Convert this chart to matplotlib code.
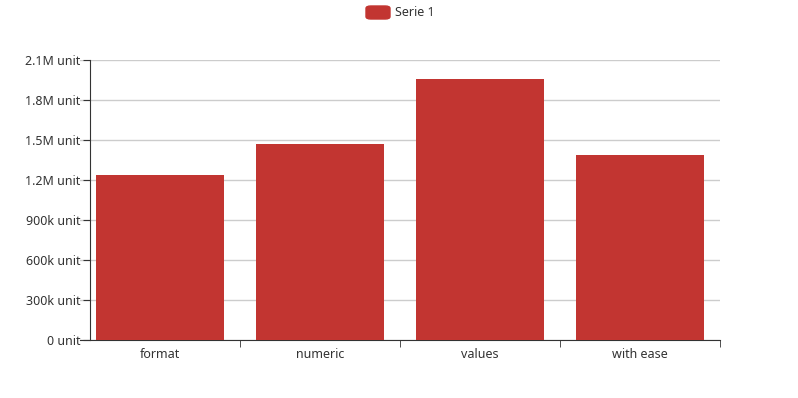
import matplotlib
matplotlib.use("Agg")
import matplotlib.pyplot as plt
from matplotlib.patches import FancyBboxPatch
import numpy as np

categories = ["format", "numeric", "values", "with ease"]
serie_1 = [1238000, 1470000, 1955000, 1385000]
y_ticks = [0, 300000, 600000, 900000, 1200000, 1500000, 1800000, 2100000]
y_labels = ["0 unit", "300k unit", "600k unit", "900k unit",
            "1.2M unit", "1.5M unit", "1.8M unit", "2.1M unit"]

plt.rcParams["font.family"] = ["Noto Sans", "DejaVu Sans"]
W, H = 798, 398
fig = plt.figure(figsize=(W / 100, H / 100), dpi=100)
ax = fig.add_axes([80 / W, 58 / H, 640 / W, 280 / H])

x = np.arange(len(categories))
ax.bar(x, serie_1, width=0.8, color="#c23531", zorder=3)
ax.set_xlim(-0.5, len(categories) - 0.5)
ax.set_ylim(0, 2100000)

ax.set_yticks(y_ticks)
ax.set_yticklabels(y_labels)
ax.yaxis.grid(True, color="#cccccc", linewidth=1, zorder=0)
ax.set_xticks(x)
ax.set_xticklabels(categories)
# category boundary ticks (the first one is hidden behind the y axis labels)
ax.set_xticks(np.arange(1, len(categories) + 1) - 0.5, minor=True)
ax.tick_params(axis="x", which="major", length=0, pad=6, labelsize=9, labelcolor="#333333")
ax.tick_params(axis="x", which="minor", length=5, color="#333333")
ax.tick_params(axis="y", length=5, pad=2, labelsize=9, labelcolor="#333333", color="#333333")

for s in ["top", "right"]:
    ax.spines[s].set_visible(False)
ax.spines["left"].set_position(("axes", 10 / 640))
ax.spines["left"].set_color("#333333")
ax.spines["bottom"].set_color("#333333")

# legend
fig.patches.append(FancyBboxPatch((366 / W, 1 - 19 / H), 24 / W, 13 / H,
                                  boxstyle="round,pad=0,rounding_size=0.006",
                                  transform=fig.transFigure, color="#c23531"))
fig.text(395 / W, 1 - 12.5 / H, "Serie 1", fontsize=9, color="#333333", va="center", ha="left")

fig.savefig("out.png", dpi=100)
